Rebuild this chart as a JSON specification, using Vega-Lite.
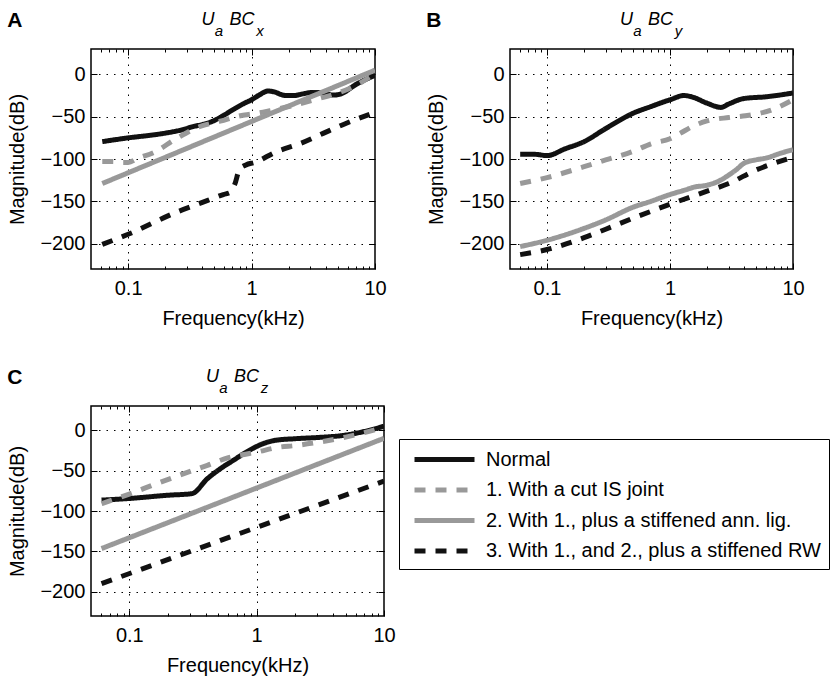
{
  "$schema": "https://vega.github.io/schema/vega-lite/v6.json",
  "padding": {"left": 7, "top": 9, "right": 0, "bottom": 0},
  "background": "white",
  "config": {
    "font": "Liberation Sans",
    "view": {"stroke": "#000", "strokeWidth": 1.5},
    "axis": {
      "domain": false,
      "labelFontSize": 20,
      "titleFontSize": 20,
      "titleFontWeight": "normal",
      "labelColor": "#000",
      "titleColor": "#000",
      "tickColor": "#000",
      "tickWidth": 1,
      "gridColor": "#000",
      "gridDash": [1.5, 6],
      "gridWidth": 1,
      "gridOpacity": 1,
      "labelFlush": false,
      "labelOverlap": false
    },
    "title": {"color": "#000", "subtitleColor": "#000"},
    "legend": {
      "orient": "none",
      "legendX": 308,
      "legendY": 390,
      "strokeColor": "#000",
      "fillColor": "#fff",
      "padding": 8,
      "labelFontSize": 20,
      "labelColor": "#000",
      "labelLimit": 400,
      "symbolType": "M-0.5,0H5.5",
      "symbolSize": 400,
      "symbolStrokeWidth": 5,
      "rowPadding": 7.5,
      "labelOffset": 54
    }
  },
  "datasets": {
    "d": [
      {"panel": "A", "series": "Normal", "f": 0.0617, "mag": -79.5},
      {"panel": "A", "series": "Normal", "f": 0.08, "mag": -77},
      {"panel": "A", "series": "Normal", "f": 0.1, "mag": -75},
      {"panel": "A", "series": "Normal", "f": 0.121, "mag": -73.6},
      {"panel": "A", "series": "Normal", "f": 0.16, "mag": -71.5},
      {"panel": "A", "series": "Normal", "f": 0.207, "mag": -69},
      {"panel": "A", "series": "Normal", "f": 0.27, "mag": -65.7},
      {"panel": "A", "series": "Normal", "f": 0.34, "mag": -61.5},
      {"panel": "A", "series": "Normal", "f": 0.42, "mag": -58.5},
      {"panel": "A", "series": "Normal", "f": 0.49, "mag": -55},
      {"panel": "A", "series": "Normal", "f": 0.6, "mag": -48},
      {"panel": "A", "series": "Normal", "f": 0.72, "mag": -41},
      {"panel": "A", "series": "Normal", "f": 0.85, "mag": -35},
      {"panel": "A", "series": "Normal", "f": 1.0, "mag": -30},
      {"panel": "A", "series": "Normal", "f": 1.15, "mag": -24.5},
      {"panel": "A", "series": "Normal", "f": 1.36, "mag": -19.7},
      {"panel": "A", "series": "Normal", "f": 1.55, "mag": -21},
      {"panel": "A", "series": "Normal", "f": 1.75, "mag": -24},
      {"panel": "A", "series": "Normal", "f": 1.91, "mag": -25},
      {"panel": "A", "series": "Normal", "f": 2.2, "mag": -25},
      {"panel": "A", "series": "Normal", "f": 2.6, "mag": -23},
      {"panel": "A", "series": "Normal", "f": 3.14, "mag": -21.3},
      {"panel": "A", "series": "Normal", "f": 3.8, "mag": -22},
      {"panel": "A", "series": "Normal", "f": 4.6, "mag": -24.5},
      {"panel": "A", "series": "Normal", "f": 5.3, "mag": -23},
      {"panel": "A", "series": "Normal", "f": 7, "mag": -12},
      {"panel": "A", "series": "Normal", "f": 10, "mag": -1},

      {"panel": "A", "series": "1. With a cut IS joint", "f": 0.0617, "mag": -103},
      {"panel": "A", "series": "1. With a cut IS joint", "f": 0.075, "mag": -103},
      {"panel": "A", "series": "1. With a cut IS joint", "f": 0.09, "mag": -104},
      {"panel": "A", "series": "1. With a cut IS joint", "f": 0.1, "mag": -104},
      {"panel": "A", "series": "1. With a cut IS joint", "f": 0.12, "mag": -99},
      {"panel": "A", "series": "1. With a cut IS joint", "f": 0.16, "mag": -92.5},
      {"panel": "A", "series": "1. With a cut IS joint", "f": 0.245, "mag": -76},
      {"panel": "A", "series": "1. With a cut IS joint", "f": 0.36, "mag": -63},
      {"panel": "A", "series": "1. With a cut IS joint", "f": 0.57, "mag": -55},
      {"panel": "A", "series": "1. With a cut IS joint", "f": 0.75, "mag": -50},
      {"panel": "A", "series": "1. With a cut IS joint", "f": 0.88, "mag": -48},
      {"panel": "A", "series": "1. With a cut IS joint", "f": 1.1, "mag": -46},
      {"panel": "A", "series": "1. With a cut IS joint", "f": 1.4, "mag": -43},
      {"panel": "A", "series": "1. With a cut IS joint", "f": 2.0, "mag": -38},
      {"panel": "A", "series": "1. With a cut IS joint", "f": 3.4, "mag": -29},
      {"panel": "A", "series": "1. With a cut IS joint", "f": 5.0, "mag": -22},
      {"panel": "A", "series": "1. With a cut IS joint", "f": 7, "mag": -13},
      {"panel": "A", "series": "1. With a cut IS joint", "f": 10, "mag": 1},

      {"panel": "A", "series": "2. With 1., plus a stiffened ann. lig.", "f": 0.0617, "mag": -129},
      {"panel": "A", "series": "2. With 1., plus a stiffened ann. lig.", "f": 10, "mag": 5},

      {"panel": "A", "series": "3. With 1., and 2., plus a stiffened RW", "f": 0.0617, "mag": -201},
      {"panel": "A", "series": "3. With 1., and 2., plus a stiffened RW", "f": 0.1, "mag": -189},
      {"panel": "A", "series": "3. With 1., and 2., plus a stiffened RW", "f": 0.255, "mag": -162},
      {"panel": "A", "series": "3. With 1., and 2., plus a stiffened RW", "f": 0.38, "mag": -152.5},
      {"panel": "A", "series": "3. With 1., and 2., plus a stiffened RW", "f": 0.59, "mag": -142},
      {"panel": "A", "series": "3. With 1., and 2., plus a stiffened RW", "f": 0.68, "mag": -139},
      {"panel": "A", "series": "3. With 1., and 2., plus a stiffened RW", "f": 0.73, "mag": -130},
      {"panel": "A", "series": "3. With 1., and 2., plus a stiffened RW", "f": 0.8, "mag": -112},
      {"panel": "A", "series": "3. With 1., and 2., plus a stiffened RW", "f": 0.9, "mag": -107},
      {"panel": "A", "series": "3. With 1., and 2., plus a stiffened RW", "f": 1.06, "mag": -104},
      {"panel": "A", "series": "3. With 1., and 2., plus a stiffened RW", "f": 1.59, "mag": -91.4},
      {"panel": "A", "series": "3. With 1., and 2., plus a stiffened RW", "f": 2.5, "mag": -81.5},
      {"panel": "A", "series": "3. With 1., and 2., plus a stiffened RW", "f": 3.8, "mag": -69.7},
      {"panel": "A", "series": "3. With 1., and 2., plus a stiffened RW", "f": 5.8, "mag": -58},
      {"panel": "A", "series": "3. With 1., and 2., plus a stiffened RW", "f": 10, "mag": -45},

      {"panel": "B", "series": "Normal", "f": 0.0605, "mag": -94.5},
      {"panel": "B", "series": "Normal", "f": 0.08, "mag": -94.5},
      {"panel": "B", "series": "Normal", "f": 0.1, "mag": -96},
      {"panel": "B", "series": "Normal", "f": 0.14, "mag": -88},
      {"panel": "B", "series": "Normal", "f": 0.2, "mag": -79.5},
      {"panel": "B", "series": "Normal", "f": 0.3, "mag": -64},
      {"panel": "B", "series": "Normal", "f": 0.5, "mag": -46},
      {"panel": "B", "series": "Normal", "f": 0.7, "mag": -38},
      {"panel": "B", "series": "Normal", "f": 1.0, "mag": -30},
      {"panel": "B", "series": "Normal", "f": 1.3, "mag": -25},
      {"panel": "B", "series": "Normal", "f": 1.5, "mag": -26.5},
      {"panel": "B", "series": "Normal", "f": 2.0, "mag": -34},
      {"panel": "B", "series": "Normal", "f": 2.6, "mag": -39},
      {"panel": "B", "series": "Normal", "f": 3.0, "mag": -35},
      {"panel": "B", "series": "Normal", "f": 4, "mag": -28.5},
      {"panel": "B", "series": "Normal", "f": 6, "mag": -26.5},
      {"panel": "B", "series": "Normal", "f": 10, "mag": -22},

      {"panel": "B", "series": "1. With a cut IS joint", "f": 0.0605, "mag": -129},
      {"panel": "B", "series": "1. With a cut IS joint", "f": 0.1, "mag": -122},
      {"panel": "B", "series": "1. With a cut IS joint", "f": 0.2, "mag": -109},
      {"panel": "B", "series": "1. With a cut IS joint", "f": 0.3, "mag": -101},
      {"panel": "B", "series": "1. With a cut IS joint", "f": 0.5, "mag": -91},
      {"panel": "B", "series": "1. With a cut IS joint", "f": 0.7, "mag": -82},
      {"panel": "B", "series": "1. With a cut IS joint", "f": 1.0, "mag": -76},
      {"panel": "B", "series": "1. With a cut IS joint", "f": 1.2, "mag": -70},
      {"panel": "B", "series": "1. With a cut IS joint", "f": 1.5, "mag": -62},
      {"panel": "B", "series": "1. With a cut IS joint", "f": 2.0, "mag": -55},
      {"panel": "B", "series": "1. With a cut IS joint", "f": 3, "mag": -51},
      {"panel": "B", "series": "1. With a cut IS joint", "f": 4.1, "mag": -49},
      {"panel": "B", "series": "1. With a cut IS joint", "f": 6.7, "mag": -42},
      {"panel": "B", "series": "1. With a cut IS joint", "f": 10, "mag": -30},

      {"panel": "B", "series": "2. With 1., plus a stiffened ann. lig.", "f": 0.0605, "mag": -203.5},
      {"panel": "B", "series": "2. With 1., plus a stiffened ann. lig.", "f": 0.1, "mag": -196},
      {"panel": "B", "series": "2. With 1., plus a stiffened ann. lig.", "f": 0.2, "mag": -182},
      {"panel": "B", "series": "2. With 1., plus a stiffened ann. lig.", "f": 0.3, "mag": -172},
      {"panel": "B", "series": "2. With 1., plus a stiffened ann. lig.", "f": 0.5, "mag": -157},
      {"panel": "B", "series": "2. With 1., plus a stiffened ann. lig.", "f": 0.7, "mag": -150},
      {"panel": "B", "series": "2. With 1., plus a stiffened ann. lig.", "f": 1.0, "mag": -142},
      {"panel": "B", "series": "2. With 1., plus a stiffened ann. lig.", "f": 1.3, "mag": -137},
      {"panel": "B", "series": "2. With 1., plus a stiffened ann. lig.", "f": 1.6, "mag": -133},
      {"panel": "B", "series": "2. With 1., plus a stiffened ann. lig.", "f": 2.0, "mag": -131},
      {"panel": "B", "series": "2. With 1., plus a stiffened ann. lig.", "f": 2.5, "mag": -126},
      {"panel": "B", "series": "2. With 1., plus a stiffened ann. lig.", "f": 3.0, "mag": -119},
      {"panel": "B", "series": "2. With 1., plus a stiffened ann. lig.", "f": 3.5, "mag": -112},
      {"panel": "B", "series": "2. With 1., plus a stiffened ann. lig.", "f": 4, "mag": -105},
      {"panel": "B", "series": "2. With 1., plus a stiffened ann. lig.", "f": 5, "mag": -101},
      {"panel": "B", "series": "2. With 1., plus a stiffened ann. lig.", "f": 6, "mag": -99},
      {"panel": "B", "series": "2. With 1., plus a stiffened ann. lig.", "f": 8, "mag": -93},
      {"panel": "B", "series": "2. With 1., plus a stiffened ann. lig.", "f": 10, "mag": -89},

      {"panel": "B", "series": "3. With 1., and 2., plus a stiffened RW", "f": 0.0605, "mag": -213},
      {"panel": "B", "series": "3. With 1., and 2., plus a stiffened RW", "f": 0.1, "mag": -207},
      {"panel": "B", "series": "3. With 1., and 2., plus a stiffened RW", "f": 0.2, "mag": -193},
      {"panel": "B", "series": "3. With 1., and 2., plus a stiffened RW", "f": 0.3, "mag": -183},
      {"panel": "B", "series": "3. With 1., and 2., plus a stiffened RW", "f": 0.5, "mag": -170},
      {"panel": "B", "series": "3. With 1., and 2., plus a stiffened RW", "f": 1, "mag": -153.5},
      {"panel": "B", "series": "3. With 1., and 2., plus a stiffened RW", "f": 2, "mag": -138},
      {"panel": "B", "series": "3. With 1., and 2., plus a stiffened RW", "f": 3, "mag": -129},
      {"panel": "B", "series": "3. With 1., and 2., plus a stiffened RW", "f": 5, "mag": -113},
      {"panel": "B", "series": "3. With 1., and 2., plus a stiffened RW", "f": 7, "mag": -105},
      {"panel": "B", "series": "3. With 1., and 2., plus a stiffened RW", "f": 10, "mag": -98},

      {"panel": "C", "series": "Normal", "f": 0.0605, "mag": -86.5},
      {"panel": "C", "series": "Normal", "f": 0.1, "mag": -84.5},
      {"panel": "C", "series": "Normal", "f": 0.2, "mag": -80.5},
      {"panel": "C", "series": "Normal", "f": 0.31, "mag": -78.5},
      {"panel": "C", "series": "Normal", "f": 0.41, "mag": -60},
      {"panel": "C", "series": "Normal", "f": 0.52, "mag": -47.5},
      {"panel": "C", "series": "Normal", "f": 0.66, "mag": -37},
      {"panel": "C", "series": "Normal", "f": 0.83, "mag": -27},
      {"panel": "C", "series": "Normal", "f": 1.13, "mag": -16.5},
      {"panel": "C", "series": "Normal", "f": 1.4, "mag": -12.5},
      {"panel": "C", "series": "Normal", "f": 2, "mag": -10.5},
      {"panel": "C", "series": "Normal", "f": 3, "mag": -9},
      {"panel": "C", "series": "Normal", "f": 5, "mag": -6},
      {"panel": "C", "series": "Normal", "f": 7, "mag": -1.5},
      {"panel": "C", "series": "Normal", "f": 10, "mag": 5},

      {"panel": "C", "series": "1. With a cut IS joint", "f": 0.0605, "mag": -91},
      {"panel": "C", "series": "1. With a cut IS joint", "f": 0.1, "mag": -79},
      {"panel": "C", "series": "1. With a cut IS joint", "f": 0.164, "mag": -66},
      {"panel": "C", "series": "1. With a cut IS joint", "f": 0.25, "mag": -55.5},
      {"panel": "C", "series": "1. With a cut IS joint", "f": 0.41, "mag": -43.5},
      {"panel": "C", "series": "1. With a cut IS joint", "f": 0.6, "mag": -34},
      {"panel": "C", "series": "1. With a cut IS joint", "f": 0.8, "mag": -30},
      {"panel": "C", "series": "1. With a cut IS joint", "f": 1, "mag": -27},
      {"panel": "C", "series": "1. With a cut IS joint", "f": 1.5, "mag": -21},
      {"panel": "C", "series": "1. With a cut IS joint", "f": 2, "mag": -19},
      {"panel": "C", "series": "1. With a cut IS joint", "f": 3, "mag": -15},
      {"panel": "C", "series": "1. With a cut IS joint", "f": 5, "mag": -8.5},
      {"panel": "C", "series": "1. With a cut IS joint", "f": 7, "mag": -3},
      {"panel": "C", "series": "1. With a cut IS joint", "f": 10, "mag": 4},

      {"panel": "C", "series": "2. With 1., plus a stiffened ann. lig.", "f": 0.0605, "mag": -146.5},
      {"panel": "C", "series": "2. With 1., plus a stiffened ann. lig.", "f": 10, "mag": -10},

      {"panel": "C", "series": "3. With 1., and 2., plus a stiffened RW", "f": 0.0605, "mag": -190},
      {"panel": "C", "series": "3. With 1., and 2., plus a stiffened RW", "f": 10, "mag": -63}
    ]
  },
  "spacing": 37,
  "vconcat": [
    {
      "spacing": 39,
      "hconcat": [
        {
          "title": {"text": "A", "anchor": "start", "fontSize": 21, "fontWeight": "bold", "offset": -21},
          "vconcat": [
            {
              "width": 284,
              "height": 220,
              "title": {"text": "U\u00a0\u00a0\u00a0BC\u00a0\u00a0\u2060", "subtitle": "\u2060\u00a0\u00a0\u00a0a\u00a0\u00a0\u00a0\u00a0\u00a0\u00a0\u00a0\u00a0x", "fontSize": 18, "subtitleFontSize": 15, "fontStyle": "italic", "subtitleFontStyle": "italic", "fontWeight": "normal", "subtitlePadding": -5, "offset": 10},
              "data": {"name": "d"},
              "transform": [{"filter": "datum.panel === 'A'"}],
              "layer": [
                {
                  "mark": {"type": "line", "strokeWidth": 5, "strokeCap": "butt", "interpolate": "monotone", "clip": true},
                  "encoding": {
                    "x": {"field": "f", "type": "quantitative", "scale": {"type": "log", "domain": [0.05, 10], "nice": false},
                      "axis": {"title": "Frequency(kHz)", "values": [0.06,0.07,0.08,0.09,0.1,0.2,0.3,0.4,0.5,0.6,0.7,0.8,0.9,1,2,3,4,5,6,7,8,9,10], "format": "~g",
                        "labelExpr": "(datum.value==0.1||datum.value==1||datum.value==10)?datum.label:''",
                        "gridOpacity": {"condition": {"test": "datum.value==0.1||datum.value==1", "value": 1}, "value": 0},
                        "tickSize": {"condition": {"test": "datum.value==0.1||datum.value==1||datum.value==10", "value": -6}, "value": -3},
                        "labelPadding": 15, "titlePadding": 7}},
                    "y": {"field": "mag", "type": "quantitative", "scale": {"domain": [-230, 30], "nice": false},
                      "axis": {"title": "Magnitude(dB)", "values": [-200,-150,-100,-50,0], "tickSize": -6, "labelPadding": 12, "titlePadding": 12}},
                    "color": {"field": "series", "type": "nominal", "title": null,
                      "scale": {"domain": ["Normal","1. With a cut IS joint","2. With 1., plus a stiffened ann. lig.","3. With 1., and 2., plus a stiffened RW"], "range": ["#111111","#999999","#999999","#111111"]}},
                    "strokeDash": {"field": "series", "type": "nominal", "title": null,
                      "scale": {"domain": ["Normal","1. With a cut IS joint","2. With 1., plus a stiffened ann. lig.","3. With 1., and 2., plus a stiffened RW"], "range": [[1,0],[11,10],[1,0],[11,10]]}}
                  }
                },
                {
                  "mark": {"type": "line", "opacity": 0},
                  "encoding": {
                    "x": {"field": "f", "type": "quantitative", "scale": {"type": "log", "domain": [0.05, 10], "nice": false},
                      "axis": {"orient": "top", "title": null, "labels": false, "grid": false, "values": [0.06,0.07,0.08,0.09,0.1,0.2,0.3,0.4,0.5,0.6,0.7,0.8,0.9,1,2,3,4,5,6,7,8,9,10],
                        "tickSize": {"condition": {"test": "datum.value==0.1||datum.value==1||datum.value==10", "value": -6}, "value": -3}}},
                    "y": {"field": "mag", "type": "quantitative", "scale": {"domain": [-230, 30], "nice": false},
                      "axis": {"orient": "right", "title": null, "labels": false, "grid": false, "values": [-200,-150,-100,-50,0], "tickSize": -6}},
                    "detail": {"field": "series"}
                  }
                }
              ],
              "resolve": {"axis": {"x": "independent", "y": "independent"}}
            }
          ]
        },
        {
          "title": {"text": "B", "anchor": "start", "fontSize": 21, "fontWeight": "bold", "offset": -21},
          "vconcat": [
            {
              "width": 283,
              "height": 220,
              "title": {"text": "U\u00a0\u00a0\u00a0BC\u00a0\u00a0\u2060", "subtitle": "\u2060\u00a0\u00a0\u00a0a\u00a0\u00a0\u00a0\u00a0\u00a0\u00a0\u00a0\u00a0y", "fontSize": 18, "subtitleFontSize": 15, "fontStyle": "italic", "subtitleFontStyle": "italic", "fontWeight": "normal", "subtitlePadding": -5, "offset": 10},
              "data": {"name": "d"},
              "transform": [{"filter": "datum.panel === 'B'"}],
              "layer": [
                {
                  "mark": {"type": "line", "strokeWidth": 5, "strokeCap": "butt", "interpolate": "monotone", "clip": true},
                  "encoding": {
                    "x": {"field": "f", "type": "quantitative", "scale": {"type": "log", "domain": [0.05, 10], "nice": false},
                      "axis": {"title": "Frequency(kHz)", "values": [0.06,0.07,0.08,0.09,0.1,0.2,0.3,0.4,0.5,0.6,0.7,0.8,0.9,1,2,3,4,5,6,7,8,9,10], "format": "~g",
                        "labelExpr": "(datum.value==0.1||datum.value==1||datum.value==10)?datum.label:''",
                        "gridOpacity": {"condition": {"test": "datum.value==0.1||datum.value==1", "value": 1}, "value": 0},
                        "tickSize": {"condition": {"test": "datum.value==0.1||datum.value==1||datum.value==10", "value": -6}, "value": -3},
                        "labelPadding": 15, "titlePadding": 7}},
                    "y": {"field": "mag", "type": "quantitative", "scale": {"domain": [-230, 30], "nice": false},
                      "axis": {"title": "Magnitude(dB)", "values": [-200,-150,-100,-50,0], "tickSize": -6, "labelPadding": 12, "titlePadding": 12}},
                    "color": {"field": "series", "type": "nominal", "title": null,
                      "scale": {"domain": ["Normal","1. With a cut IS joint","2. With 1., plus a stiffened ann. lig.","3. With 1., and 2., plus a stiffened RW"], "range": ["#111111","#999999","#999999","#111111"]}},
                    "strokeDash": {"field": "series", "type": "nominal", "title": null,
                      "scale": {"domain": ["Normal","1. With a cut IS joint","2. With 1., plus a stiffened ann. lig.","3. With 1., and 2., plus a stiffened RW"], "range": [[1,0],[11,10],[1,0],[11,10]]}}
                  }
                },
                {
                  "mark": {"type": "line", "opacity": 0},
                  "encoding": {
                    "x": {"field": "f", "type": "quantitative", "scale": {"type": "log", "domain": [0.05, 10], "nice": false},
                      "axis": {"orient": "top", "title": null, "labels": false, "grid": false, "values": [0.06,0.07,0.08,0.09,0.1,0.2,0.3,0.4,0.5,0.6,0.7,0.8,0.9,1,2,3,4,5,6,7,8,9,10],
                        "tickSize": {"condition": {"test": "datum.value==0.1||datum.value==1||datum.value==10", "value": -6}, "value": -3}}},
                    "y": {"field": "mag", "type": "quantitative", "scale": {"domain": [-230, 30], "nice": false},
                      "axis": {"orient": "right", "title": null, "labels": false, "grid": false, "values": [-200,-150,-100,-50,0], "tickSize": -6}},
                    "detail": {"field": "series"}
                  }
                }
              ],
              "resolve": {"axis": {"x": "independent", "y": "independent"}}
            }
          ]
        }
      ]
    },
    {
      "hconcat": [
        {
          "title": {"text": "C", "anchor": "start", "fontSize": 21, "fontWeight": "bold", "offset": -21},
          "vconcat": [
            {
              "width": 293,
              "height": 210,
              "title": {"text": "U\u00a0\u00a0\u00a0BC\u00a0\u00a0\u2060", "subtitle": "\u2060\u00a0\u00a0\u00a0a\u00a0\u00a0\u00a0\u00a0\u00a0\u00a0\u00a0\u00a0z", "fontSize": 18, "subtitleFontSize": 15, "fontStyle": "italic", "subtitleFontStyle": "italic", "fontWeight": "normal", "subtitlePadding": -5, "offset": 10},
              "data": {"name": "d"},
              "transform": [{"filter": "datum.panel === 'C'"}],
              "layer": [
                {
                  "mark": {"type": "line", "strokeWidth": 5, "strokeCap": "butt", "interpolate": "monotone", "clip": true},
                  "encoding": {
                    "x": {"field": "f", "type": "quantitative", "scale": {"type": "log", "domain": [0.05, 10], "nice": false},
                      "axis": {"title": "Frequency(kHz)", "values": [0.06,0.07,0.08,0.09,0.1,0.2,0.3,0.4,0.5,0.6,0.7,0.8,0.9,1,2,3,4,5,6,7,8,9,10], "format": "~g",
                        "labelExpr": "(datum.value==0.1||datum.value==1||datum.value==10)?datum.label:''",
                        "gridOpacity": {"condition": {"test": "datum.value==0.1||datum.value==1", "value": 1}, "value": 0},
                        "tickSize": {"condition": {"test": "datum.value==0.1||datum.value==1||datum.value==10", "value": -6}, "value": -3},
                        "labelPadding": 15, "titlePadding": 7}},
                    "y": {"field": "mag", "type": "quantitative", "scale": {"domain": [-230, 30], "nice": false},
                      "axis": {"title": "Magnitude(dB)", "values": [-200,-150,-100,-50,0], "tickSize": -6, "labelPadding": 12, "titlePadding": 12}},
                    "color": {"field": "series", "type": "nominal", "title": null,
                      "scale": {"domain": ["Normal","1. With a cut IS joint","2. With 1., plus a stiffened ann. lig.","3. With 1., and 2., plus a stiffened RW"], "range": ["#111111","#999999","#999999","#111111"]}},
                    "strokeDash": {"field": "series", "type": "nominal", "title": null,
                      "scale": {"domain": ["Normal","1. With a cut IS joint","2. With 1., plus a stiffened ann. lig.","3. With 1., and 2., plus a stiffened RW"], "range": [[1,0],[11,10],[1,0],[11,10]]}}
                  }
                },
                {
                  "mark": {"type": "line", "opacity": 0},
                  "encoding": {
                    "x": {"field": "f", "type": "quantitative", "scale": {"type": "log", "domain": [0.05, 10], "nice": false},
                      "axis": {"orient": "top", "title": null, "labels": false, "grid": false, "values": [0.06,0.07,0.08,0.09,0.1,0.2,0.3,0.4,0.5,0.6,0.7,0.8,0.9,1,2,3,4,5,6,7,8,9,10],
                        "tickSize": {"condition": {"test": "datum.value==0.1||datum.value==1||datum.value==10", "value": -6}, "value": -3}}},
                    "y": {"field": "mag", "type": "quantitative", "scale": {"domain": [-230, 30], "nice": false},
                      "axis": {"orient": "right", "title": null, "labels": false, "grid": false, "values": [-200,-150,-100,-50,0], "tickSize": -6}},
                    "detail": {"field": "series"}
                  }
                }
              ],
              "resolve": {"axis": {"x": "independent", "y": "independent"}}
            }
          ]
        }
      ]
    }
  ]
}
